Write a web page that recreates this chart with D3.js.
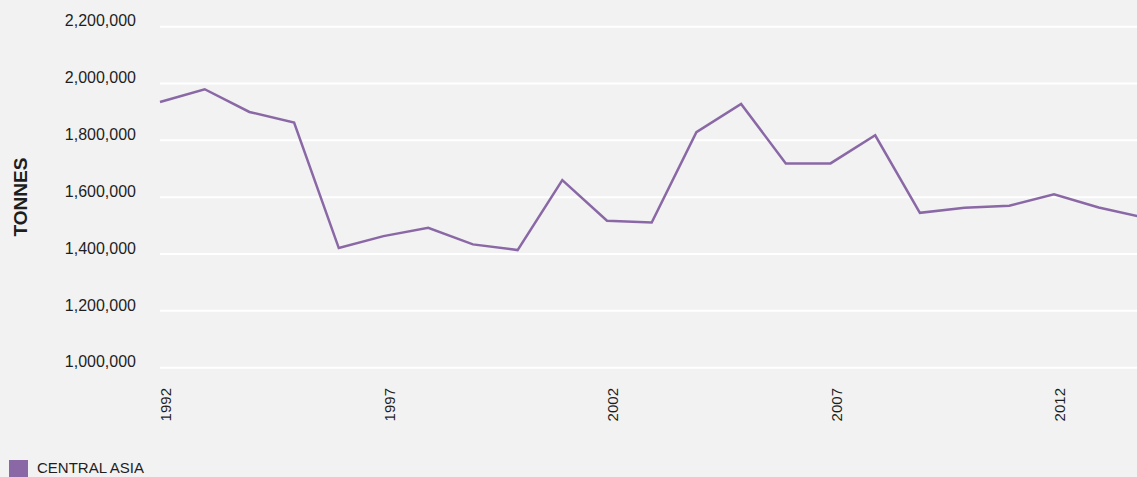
<!DOCTYPE html>
<html>
<head>
<meta charset="utf-8">
<script src="https://cdn.jsdelivr.net/npm/d3@7"></script>
<style>
  html, body { margin: 0; padding: 0; background: #f2f2f2; overflow: hidden; }
  svg { display: block; font-family: "Liberation Sans", Arial, Helvetica, sans-serif; }
</style>
</head>
<body>
<svg id="chart" width="1137" height="477"></svg>
<script>
// Annual production, Central Asia (tonnes)
const years = [1992, 1993, 1994, 1995, 1996, 1997, 1998, 1999, 2000, 2001, 2002, 2003,
               2004, 2005, 2006, 2007, 2008, 2009, 2010, 2011, 2012, 2013, 2014];
const centralAsia = [1935000, 1980000, 1900000, 1863000, 1421000, 1463000, 1492000, 1434000,
                     1414000, 1660000, 1517000, 1511000, 1829000, 1928000, 1719000, 1719000,
                     1818000, 1545000, 1563000, 1570000, 1610000, 1564000, 1529000];
const yTicks = [1000000, 1200000, 1400000, 1600000, 1800000, 2000000, 2200000];
const xTicks = [1992, 1997, 2002, 2007, 2012];
const seriesName = "CENTRAL ASIA";
const seriesColor = "#8a68a6";

const svg = d3.select("#chart");
const W = 1137, H = 477;
const left = 160;

const x = d3.scaleLinear().domain([1992, 2014]).range([left, left + 22 * 44.7]);
const y = d3.scaleLinear().domain([1000000, 2200000]).range([367.7, 26.7]);

// horizontal gridlines
svg.append("g")
  .selectAll("line")
  .data(yTicks)
  .join("line")
  .attr("x1", left).attr("x2", W + 20)
  .attr("y1", d => y(d)).attr("y2", d => y(d))
  .attr("stroke", "#ffffff")
  .attr("stroke-width", 2);

// y axis labels
const yAxis = d3.axisLeft(y).tickValues(yTicks).tickSize(0).tickPadding(24)
  .tickFormat(d3.format(","));
const gy = svg.append("g").attr("transform", `translate(${left},0)`).call(yAxis);
gy.select(".domain").remove();
gy.selectAll("text")
  .attr("dy", "-0.05em")
  .attr("font-size", 16)
  .attr("font-family", "\"Liberation Sans\", Arial, sans-serif")
  .attr("fill", "#1e1e1e");

// x axis labels, rotated
const xAxis = d3.axisBottom(x).tickValues(xTicks).tickSize(0).tickFormat(d3.format("d"));
const gx = svg.append("g").attr("transform", "translate(0,388)").call(xAxis);
gx.select(".domain").remove();
gx.selectAll("text")
  .attr("transform", "rotate(-90)")
  .attr("text-anchor", "end")
  .attr("x", 0).attr("y", 0)
  .attr("dx", 0)
  .attr("dy", "0.7em")
  .attr("font-size", 15)
  .attr("font-family", "\"Liberation Sans\", Arial, sans-serif")
  .attr("fill", "#1e1e1e");

// y axis title
svg.append("text")
  .attr("transform", "translate(27,197) rotate(-90)")
  .attr("text-anchor", "middle")
  .attr("font-size", 19)
  .attr("font-weight", "bold")
  .attr("fill", "#1e1e1e")
  .text("TONNES");

// series line
const line = d3.line()
  .x((d, i) => x(years[i]))
  .y(d => y(d));
svg.append("path")
  .datum(centralAsia)
  .attr("d", line)
  .attr("fill", "none")
  .attr("stroke", seriesColor)
  .attr("stroke-width", 2.5)
  .attr("stroke-linejoin", "miter");

// legend
const legend = svg.append("g").attr("transform", "translate(9,460)");
legend.append("rect")
  .attr("width", 19).attr("height", 17)
  .attr("fill", seriesColor);
legend.append("text")
  .attr("x", 28).attr("y", 13)
  .attr("font-size", 15)
  .attr("fill", "#1e1e1e")
  .text(seriesName);
</script>
</body>
</html>
